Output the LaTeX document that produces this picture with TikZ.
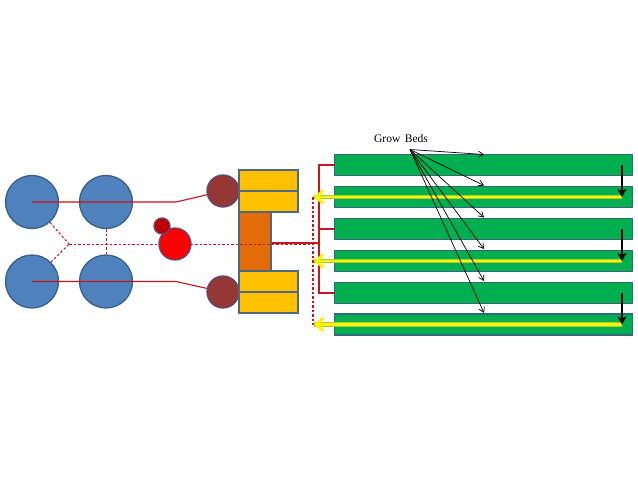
\documentclass[tikz,border=0pt]{standalone}
\usepackage{fontspec}
\setmainfont{Liberation Serif}
\usetikzlibrary{arrows.meta}
\definecolor{tankblue}{HTML}{4F81BD}
\definecolor{tankedge}{HTML}{3A5F8C}
\definecolor{bedgreen}{HTML}{00B050}
\definecolor{bededge}{HTML}{31697A}
\definecolor{boxyellow}{HTML}{FFC000}
\definecolor{boxorange}{HTML}{E36C09}
\definecolor{boxedge}{HTML}{4F6A80}
\definecolor{pumpbrown}{HTML}{953735}
\definecolor{pumpedge}{HTML}{5A4A78}
\definecolor{pipered}{HTML}{C8141E}
\definecolor{drainedge}{HTML}{A8D030}
\tikzset{
  tank/.style={circle, draw=tankedge, fill=tankblue, line width=1.3pt, minimum size=53pt, inner sep=0pt},
  pump/.style={circle, draw=pumpedge, fill=pumpbrown, line width=1.3pt, minimum size=32pt, inner sep=0pt},
  filterbox/.style={rectangle, draw=boxedge, fill=boxyellow, line width=1.2pt, minimum width=59pt, minimum height=21pt, inner sep=0pt},
  bed/.style={rectangle, draw=bededge, fill=bedgreen, line width=1.1pt, minimum width=298pt, minimum height=21pt, inner sep=0pt},
  pipe/.style={draw=pipered, line width=1.1pt},
  returnpipe/.style={draw=pipered, line width=1pt, dash pattern=on 2.5pt off 2pt},
  drainglow/.style={draw=drainedge, line width=4.2pt},
  drain/.style={draw=yellow, line width=2.6pt, -{Straight Barb[length=7pt,width=13pt,line width=3pt]}},
  drop/.style={draw=black, line width=1.4pt, -{Stealth[length=8pt,width=9pt,inset=2pt]}},
  pointer/.style={draw=black, line width=0.7pt, -{Straight Barb[length=5pt,width=6pt]}}
}
\begin{document}
\begin{tikzpicture}[x=1pt,y=-1pt]
  \useasboundingbox[fill=white] (0,0) rectangle (638,479);

  % Tanks
  \node[tank] (tankA) at (32,202) {};
  \node[tank] (tankB) at (106,202) {};
  \node[tank] (tankC) at (32,281.5) {};
  \node[tank] (tankD) at (106,281.5) {};

  % Sump and small pump
  \node[circle, draw=pumpedge, fill=red, line width=1.3pt, minimum size=32pt, inner sep=0pt] (sump) at (175,244) {};
  \node[circle, draw=pumpedge, fill=red!75!black, line width=1.3pt, minimum size=16pt, inner sep=0pt] (sumppump) at (162,226) {};

  % Pumps
  \node[pump] (pumpA) at (223,191) {};
  \node[pump] (pumpB) at (223,292) {};

  % Filters
  \node[filterbox] (filterA) at (268.5,180.5) {};
  \node[filterbox] (filterB) at (268.5,201.5) {};
  \node[filterbox] (filterC) at (268.5,281.5) {};
  \node[filterbox] (filterD) at (268.5,302.5) {};
  \node[rectangle, draw=boxedge, fill=boxorange, line width=1.2pt, minimum width=32pt, minimum height=59pt, inner sep=0pt] (clarifier) at (255,241.5) {};

  % Grow beds
  \foreach \name/\y in {bedA/165, bedB/197, bedC/229, bedD/261, bedE/293, bedF/324.5} {
    \node[bed] (\name) at (483.5,\y) {};
  }

  % Supply pipes
  \coordinate (elbowA) at (176,202);
  \coordinate (elbowB) at (176,281.5);
  \draw[pipe] (tankA.center) -- (elbowA) -- (pumpA);
  \draw[pipe] (tankC.center) -- (elbowB) -- (pumpB);
  \coordinate (trunk) at (319,243);
  \draw[pipe] (clarifier.east |- trunk) -- (trunk);
  \draw[pipe] (bedA.west) -| (trunk);
  \draw[pipe] (bedE.west) -| (trunk);
  \draw[pipe] (bedC.west) -- (bedC.west -| trunk);

  % Return pipes
  \coordinate (hub) at (69,244);
  \coordinate (backTop) at (313,197);
  \coordinate (backBottom) at (313,324.5);
  \draw[returnpipe] (tankA) -- (hub);
  \draw[returnpipe] (tankC) -- (hub);
  \draw[returnpipe] (tankB) -- (tankD);
  \draw[returnpipe] (hub) -- (hub -| backTop);
  \draw[returnpipe, line width=1.25pt] (backTop) -- (backBottom);

  % Drain lines, with the drop into each
  \foreach \from/\to/\y in {bedA/bedB/197, bedC/bedD/261, bedE/bedF/324.5} {
    \coordinate (end\to) at (622,\y);
    \coordinate (start\from) at (622,\y-32);
    \coordinate (tip\to) at (314,\y);
    \draw[drainglow] (end\to) -- (tip\to);
    \draw[drain] (end\to) -- (tip\to);
    \draw[drop] (start\from) -- (end\to);
  }

  % Label and its pointers
  \node[font=\fontsize{11.5}{13}\selectfont, inner sep=0pt] (label) at (401,139) {Grow\hspace{4.5pt}Beds};
  \coordinate (fan) at (410,149.5);
  \foreach \name/\y in {bedA/154.5, bedB/185.5, bedC/217.5, bedD/249, bedE/281, bedF/313} {
    \coordinate (aim\name) at (484,\y);
    \draw[pointer] (fan) -- (aim\name);
  }
\end{tikzpicture}
\end{document}
